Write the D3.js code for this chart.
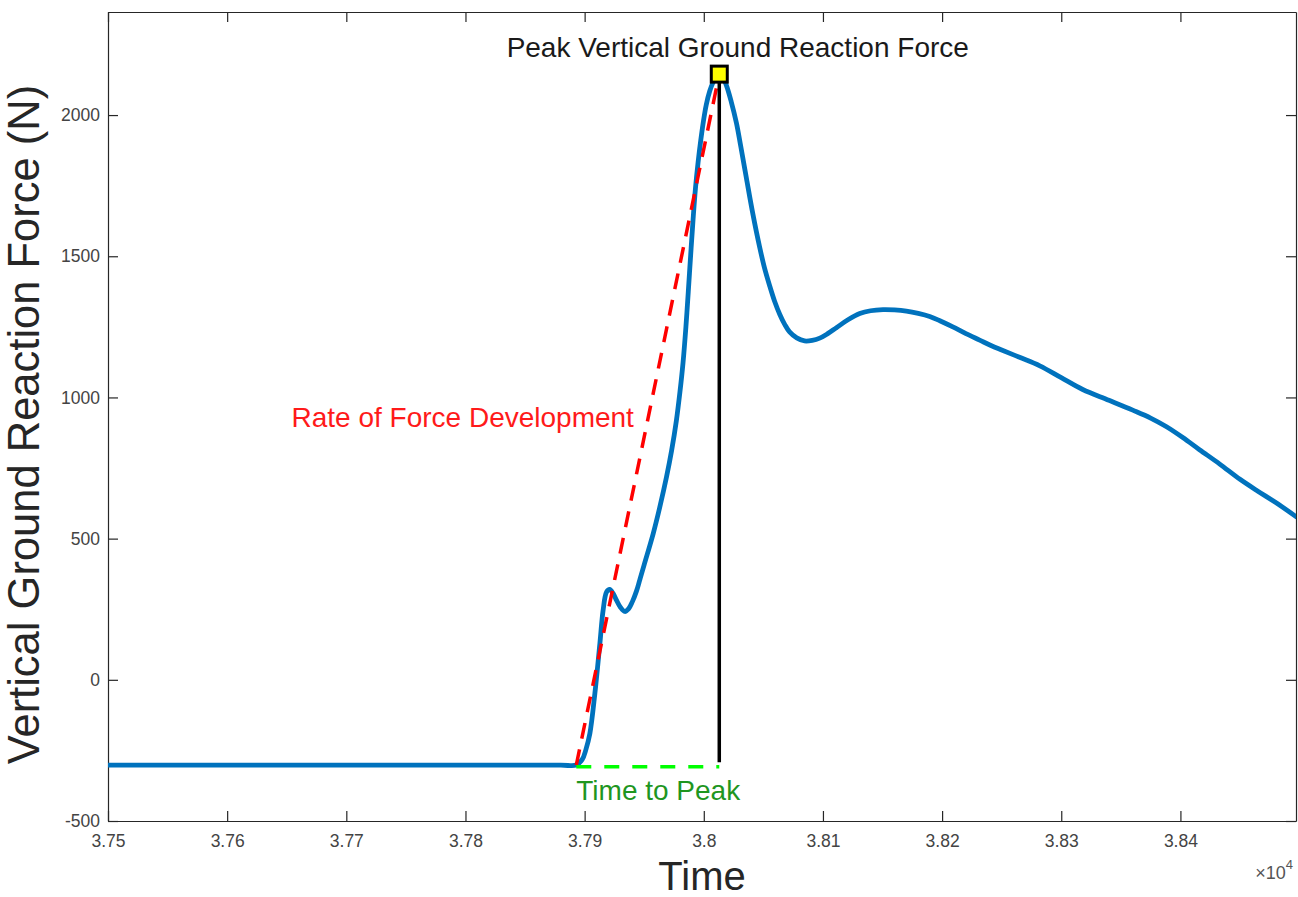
<!DOCTYPE html>
<html>
<head>
<meta charset="utf-8">
<script src="https://cdn.jsdelivr.net/npm/d3@7"></script>
<style>
  html, body { margin: 0; padding: 0; background: #ffffff; }
  svg { display: block; }
  text { font-family: "Liberation Sans", Arial, Helvetica, sans-serif; }
</style>
</head>
<body>
<svg id="chart" width="1298" height="897"></svg>
<script>
// ---------------- data ----------------
const times = [37500, 37600, 37700, 37800, 37880, 37893, 37898, 37901, 37904.4, 37908.6, 37912.8, 37915.5,
  37918.4, 37921, 37924, 37926.7, 37930, 37933.7, 37937, 37940, 37943.5, 37946.3, 37950, 37957.5, 37963,
  37968.7, 37973, 37977, 37980, 37982.6, 37985, 37987, 37989, 37991, 37993, 37995.2, 37997.5, 37999.4,
  38002, 38005, 38008, 38010.6, 38013, 38015.5, 38018.9, 38023, 38027.4, 38031, 38035.8, 38041, 38047,
  38051, 38055.4, 38059.5, 38063.8, 38068, 38072, 38078, 38084.6, 38091, 38097.3, 38104, 38111.3, 38121,
  38130.9, 38140, 38150.4, 38160, 38170, 38180, 38189.6, 38199, 38209, 38220, 38231.5, 38241, 38250,
  38265, 38282, 38300, 38318, 38340, 38360, 38375, 38388, 38402, 38416, 38433, 38450, 38465, 38480, 38497];
const forces = [-302, -302, -302, -302, -302, -302, -282, -248, -190, -48, 129, 246,
  311, 320, 305, 282, 257, 242, 252, 276, 314, 354, 408, 517, 610,
  718, 812, 918, 1020, 1124, 1250, 1375, 1505, 1630, 1740, 1832, 1912, 1970,
  2035, 2085, 2118, 2136, 2145, 2138, 2106, 2048, 1972, 1890, 1776, 1654, 1530,
  1458, 1394, 1340, 1294, 1258, 1232, 1211, 1200, 1202, 1210, 1226, 1247, 1275,
  1297, 1307, 1311, 1310, 1306, 1298, 1287, 1270, 1250, 1226, 1203, 1184, 1168,
  1142, 1112, 1070, 1028, 990, 955, 927, 897, 858, 815, 764, 710, 668, 628, 578];

const xTicks = [37500, 37600, 37700, 37800, 37900, 38000, 38100, 38200, 38300, 38400];
const xTickLabels = ["3.75", "3.76", "3.77", "3.78", "3.79", "3.8", "3.81", "3.82", "3.83", "3.84"];
const yTicks = [-500, 0, 500, 1000, 1500, 2000];
const yTickLabels = ["-500", "0", "500", "1000", "1500", "2000"];

const xDomain = [37500, 38497];
const yDomain = [-500, 2365];

const onset = { t: 37893, f: -302 };
const peak = { t: 38013, f: 2145 };
const timeToPeakForce = -308;
const peakLineEndForce = -292;

const labels = {
  title: "Peak Vertical Ground Reaction Force",
  rfd: "Rate of Force Development",
  ttp: "Time to Peak",
  xAxis: "Time",
  yAxis: "Vertical Ground Reaction Force (N)",
  exponent: "4"
};

// ---------------- layout ----------------
const svg = d3.select("#chart");
svg.append("rect").attr("width", 1298).attr("height", 897).attr("fill", "#fff");

const pLeft = 108, pRight = 1296, pTop = 12, pBottom = 821;
const x = d3.scaleLinear().domain(xDomain).range([pLeft, pRight]);
const y = d3.scaleLinear().domain(yDomain).range([pBottom, pTop]);

const axisColor = "#262626";
const tickFont = "17.5px";

// clip
svg.append("clipPath").attr("id", "clip").append("rect")
  .attr("x", pLeft).attr("y", pTop).attr("width", pRight - pLeft).attr("height", pBottom - pTop);

// axes
const gB = svg.append("g").attr("transform", `translate(0,${pBottom})`)
  .call(d3.axisBottom(x).tickValues(xTicks).tickSizeInner(-10).tickSizeOuter(0).tickPadding(14)
    .tickFormat((d, i) => xTickLabels[i]));
const gT = svg.append("g").attr("transform", `translate(0,${pTop})`)
  .call(d3.axisTop(x).tickValues(xTicks).tickSizeInner(-10).tickSizeOuter(0).tickFormat(""));
const gL = svg.append("g").attr("transform", `translate(${pLeft},0)`)
  .call(d3.axisLeft(y).tickValues(yTicks).tickSizeInner(-10).tickSizeOuter(0).tickPadding(8)
    .tickFormat((d, i) => yTickLabels[i]));
const gR = svg.append("g").attr("transform", `translate(${pRight},0)`)
  .call(d3.axisRight(y).tickValues(yTicks).tickSizeInner(-10).tickSizeOuter(0).tickFormat(""));

[gB, gT, gL, gR].forEach(g => {
  g.select(".domain").attr("stroke", axisColor).attr("stroke-width", 1.2);
  g.selectAll(".tick line").attr("stroke", axisColor).attr("stroke-width", 1.2);
  g.selectAll(".tick text").attr("fill", "#444").style("font-size", tickFont)
    .style("font-family", '"Liberation Sans", Arial, Helvetica, sans-serif');
});

// exponent label
const expText = svg.append("text").attr("x", pRight - 3).attr("y", 879).attr("text-anchor", "end")
  .attr("fill", "#555").style("font-size", "18px");
expText.append("tspan").text("\u00d710");
expText.append("tspan").attr("dy", -10).style("font-size", "13px").text(labels.exponent);

// axis titles
svg.append("text").attr("x", (pLeft + pRight) / 2).attr("y", 890).attr("text-anchor", "middle")
  .attr("fill", axisColor).style("font-size", "40px").text(labels.xAxis);
svg.append("text").attr("transform", `translate(39,${(pTop + pBottom) / 2 + 8}) rotate(-90)`)
  .attr("text-anchor", "middle").attr("fill", axisColor).style("font-size", "43.5px").text(labels.yAxis);

// plot layer
const plot = svg.append("g").attr("clip-path", "url(#clip)");

const series = times.map((t, i) => ({ t, f: forces[i] }));
const line = d3.line().x(d => x(d.t)).y(d => y(d.f)).curve(d3.curveCatmullRom.alpha(0.5));

plot.append("path").datum(series).attr("d", line)
  .attr("fill", "none").attr("stroke", "#0072BD").attr("stroke-width", 4.8)
  .attr("stroke-linejoin", "round").attr("stroke-linecap", "round");

// rate of force development (red dashed)
plot.append("line")
  .attr("x1", x(onset.t)).attr("y1", y(onset.f)).attr("x2", x(peak.t)).attr("y2", y(peak.f))
  .attr("stroke", "#ff0000").attr("stroke-width", 3.5).attr("stroke-dasharray", "16,11");

// time to peak (green dashed)
plot.append("line")
  .attr("x1", x(onset.t)).attr("y1", y(timeToPeakForce)).attr("x2", x(peak.t)).attr("y2", y(timeToPeakForce))
  .attr("stroke", "#00ff00").attr("stroke-width", 3.5).attr("stroke-dasharray", "15,13");

// vertical black line at peak
plot.append("line")
  .attr("x1", x(peak.t)).attr("y1", y(peak.f)).attr("x2", x(peak.t)).attr("y2", y(peakLineEndForce))
  .attr("stroke", "#000").attr("stroke-width", 3.5);

// peak marker
const ms = 16;
svg.append("rect").attr("x", x(peak.t) - ms / 2).attr("y", y(peak.f) - ms / 2)
  .attr("width", ms).attr("height", ms).attr("fill", "#ffff00").attr("stroke", "#000").attr("stroke-width", 3);

// annotation texts
svg.append("text").attr("x", x(38028.5)).attr("y", y(2205)).attr("text-anchor", "middle")
  .attr("fill", "#1a1a1a").style("font-size", "28px").text(labels.title);
svg.append("text").attr("x", x(37654)).attr("y", y(894)).attr("text-anchor", "start")
  .attr("fill", "#ff1a1a").style("font-size", "28px").text(labels.rfd);
svg.append("text").attr("x", x(onset.t)).attr("y", y(-426)).attr("text-anchor", "start")
  .attr("fill", "#1f961f").style("font-size", "28px").text(labels.ttp);
</script>
</body>
</html>
